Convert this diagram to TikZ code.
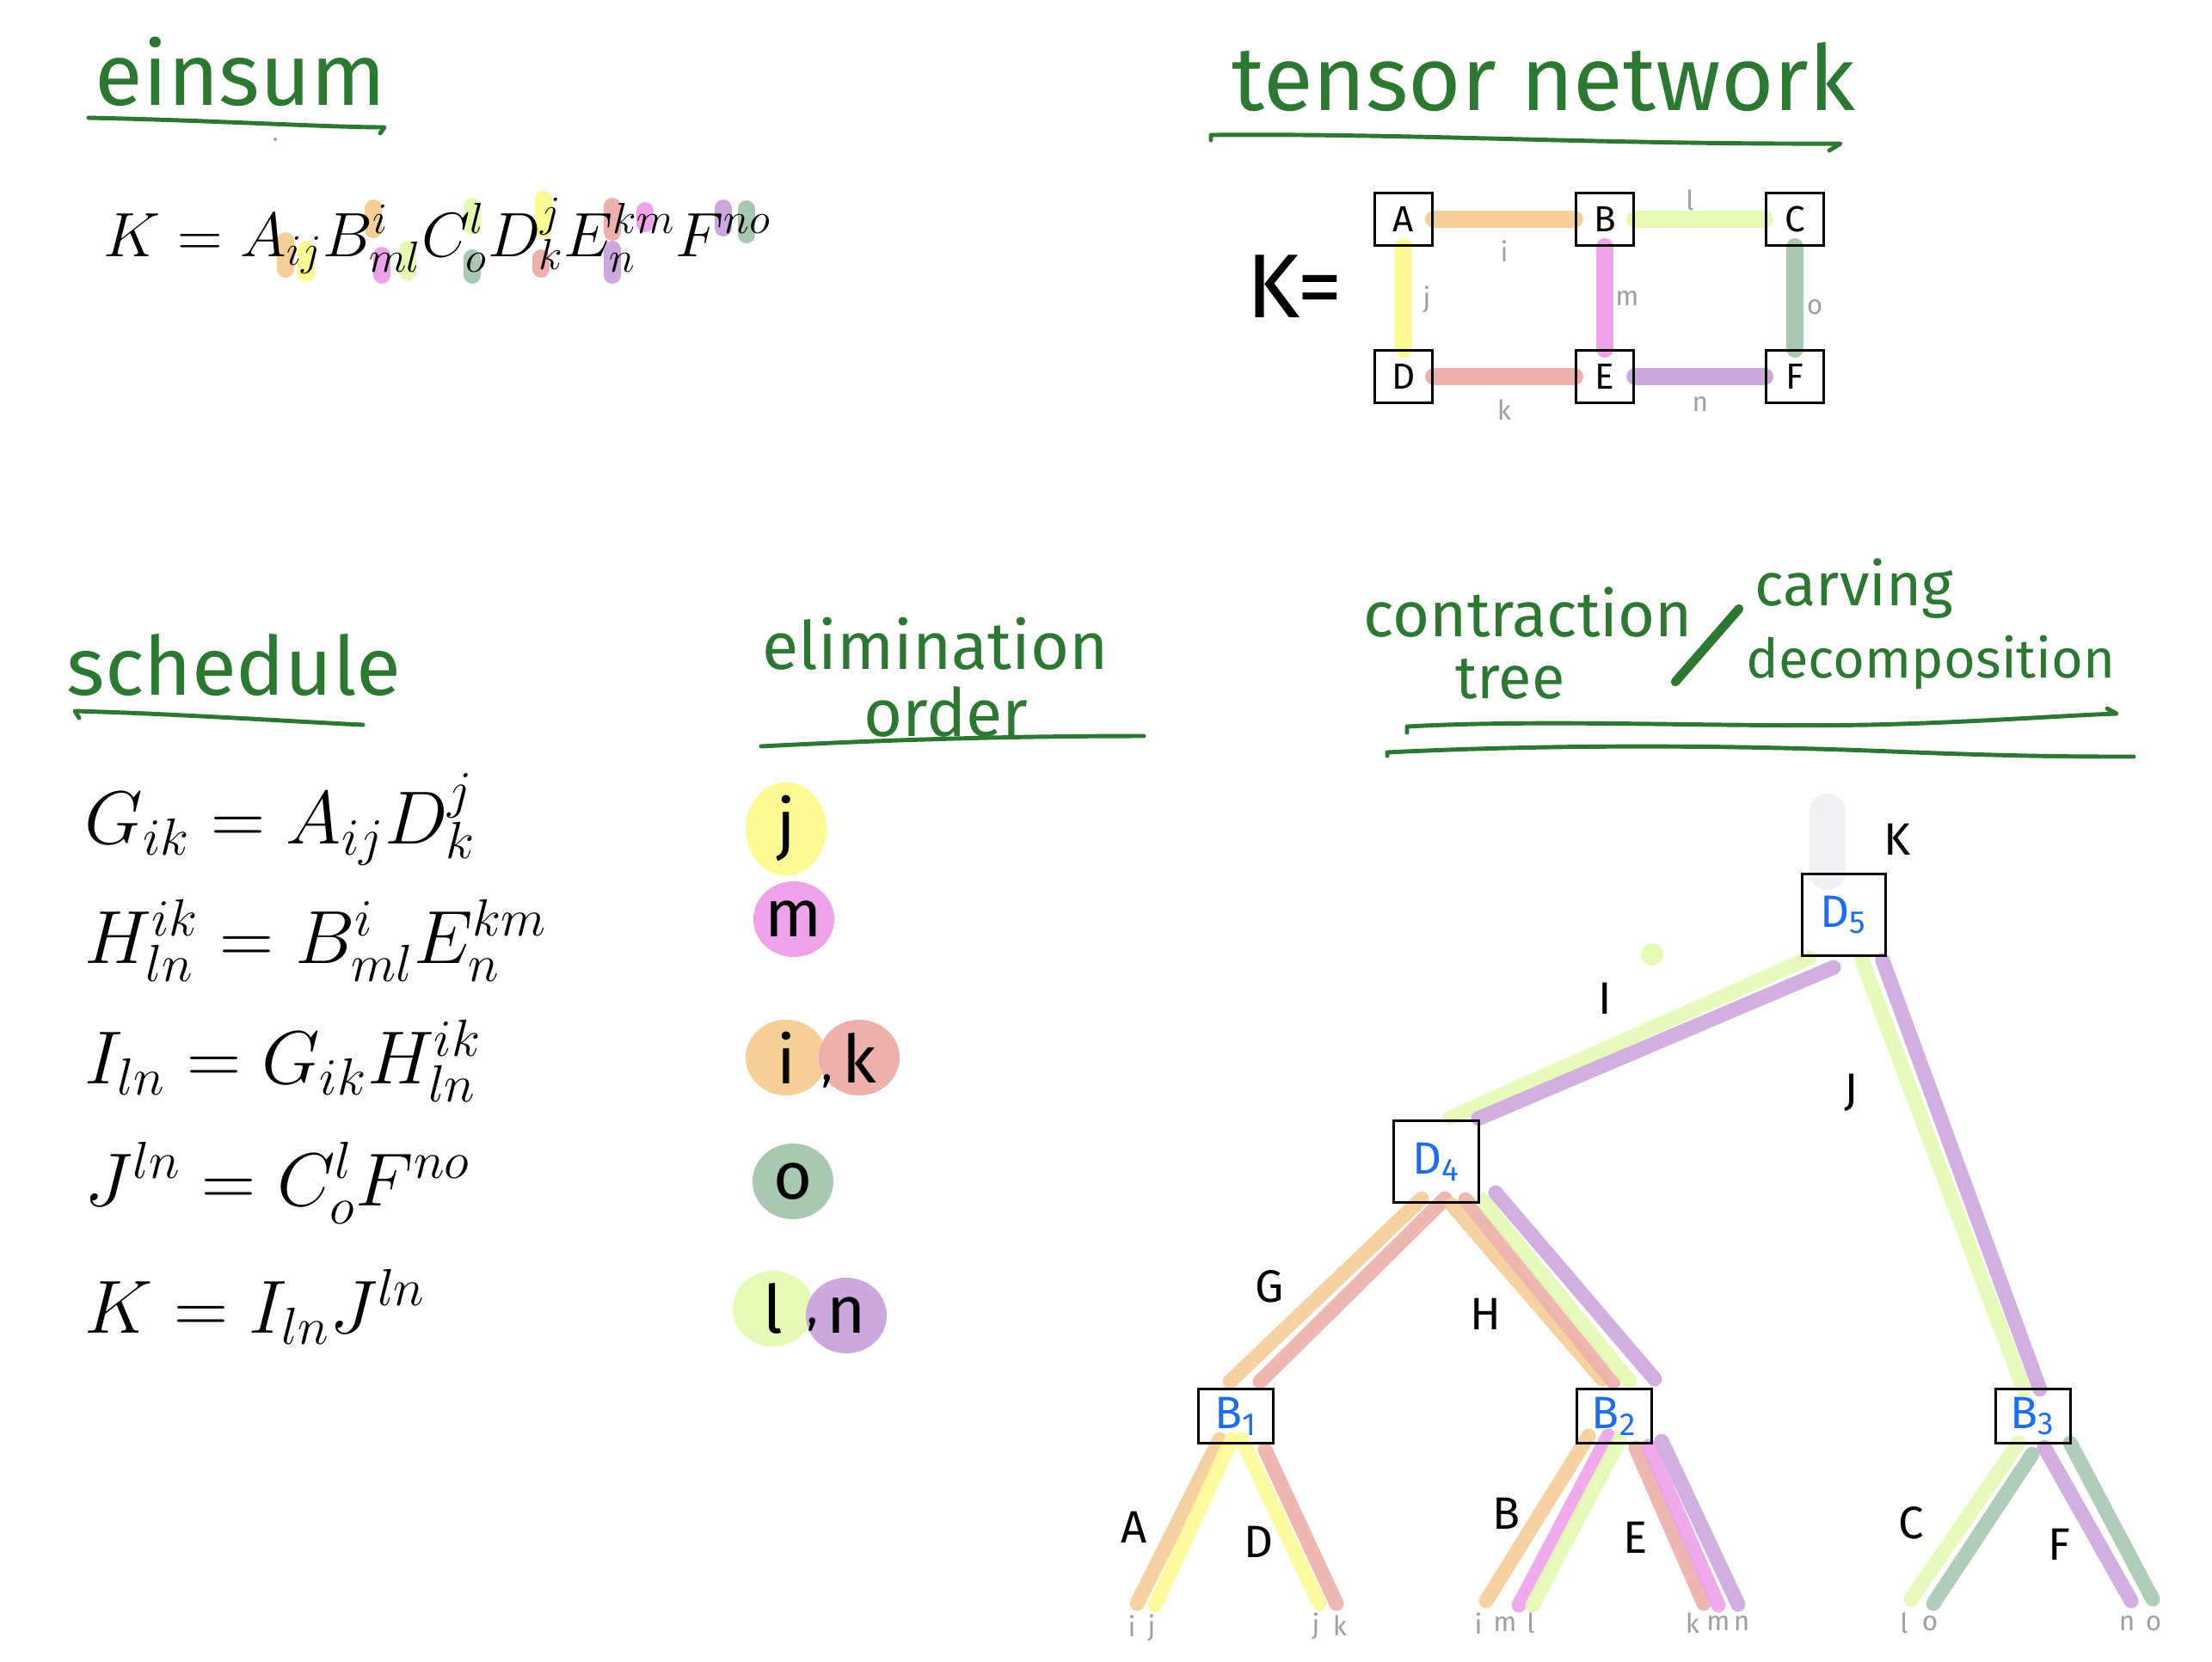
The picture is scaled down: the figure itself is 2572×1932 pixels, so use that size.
\documentclass[tikz,border=0pt]{standalone}
\usepackage{fontspec}
\usepackage{tikz}
\usetikzlibrary{positioning, backgrounds, shapes.geometric}
\newfontfamily\handfont{Fira Sans}
\definecolor{inkgreen}{RGB}{44,120,50}
\definecolor{inkblue}{RGB}{30,110,235}
\definecolor{labgray}{RGB}{160,160,160}
\definecolor{idxi}{RGB}{246,206,152}
\definecolor{idxj}{RGB}{253,250,150}
\definecolor{idxk}{RGB}{238,176,170}
\definecolor{idxl}{RGB}{229,250,180}
\definecolor{idxm}{RGB}{238,162,234}
\definecolor{idxn}{RGB}{204,168,222}
\definecolor{idxo}{RGB}{168,200,178}
\definecolor{idxK}{RGB}{242,240,245}

\begin{document}
\begin{tikzpicture}[x=0.01cm, y=-0.01cm,
    heading/.style={text=inkgreen, inner sep=0pt, font=\handfont\fontsize{#1}{#1}\selectfont},
    uline/.style={draw=inkgreen, line width=1.4pt, line cap=round, line join=round},
    tbox/.style={draw, line width=0.9pt, minimum width=0.67cm, minimum height=0.61cm, inner sep=0pt, font=\handfont\fontsize{12}{12}\selectfont},
    cbox/.style={draw, line width=0.9pt, inner sep=0pt, text=inkblue, font=\handfont\fontsize{15}{15}\selectfont},
    bond/.style={line width=0.2cm, line cap=round},
    leg/.style={line width=0.17cm, line cap=round, opacity=0.9},
    hl/.style={line width=0.2cm, line cap=round},
    ilab/.style={text=labgray, inner sep=0pt, font=\handfont\fontsize{9}{9}\selectfont},
    hlab/.style={inner sep=0pt, font=\handfont\fontsize{15}{15}\selectfont},
    elim/.style={ellipse, minimum width=0.94cm, minimum height=0.88cm, inner sep=0pt, font=\handfont\fontsize{22}{22}\selectfont},
    seq/.style={anchor=base west, inner sep=0pt, font=\fontsize{26}{26}\selectfont},
  ]
  \useasboundingbox (0,0) rectangle (2572,1932);

  % einsum
  \node[heading=29, anchor=base] (tEinsum) at (280,122) {einsum};
  \draw[uline] (103,137) .. controls (250,140) and (380,148) .. (447,148) -- (442,155);
  \fill[labgray] (320,162) circle (2);
  \node[anchor=base west, inner sep=0pt, font=\fontsize{20}{20}\selectfont] (eqK) at (120,298)
    {$K = A_{ij}B^{i}_{ml}C^{l}_{o}D^{j}_{k}E^{km}_{n}F^{no}$};

  % tensor network
  \node[heading=30, anchor=base] (tNetwork) at (1795,128) {tensor network};
  \draw[uline] (1408,163) -- (1408,157) .. controls (1650,155) and (1850,168) .. (2140,167) -- (2127,175);
  \node[inner sep=0pt, font=\handfont\fontsize{30}{30}\selectfont] (Keq) at (1505,333) {K=};
  \node[tbox] (A) at (1632,255) {A};
  \node[tbox] (B) at (1866,255) {B};
  \node[tbox] (C) at (2087,255) {C};
  \node[tbox] (D) at (1632,438) {D};
  \node[tbox] (E) at (1866,438) {E};
  \node[tbox] (F) at (2087,438) {F};
  \node[ilab] (ni) at (1749,292) {i};
  \node[ilab] (nl) at (1965,233) {l};
  \node[ilab] (nj) at (1659,348) {j};
  \node[ilab] (nm) at (1892,347) {m};
  \node[ilab] (no) at (2110,357) {o};
  \node[ilab] (nk) at (1749,477) {k};
  \node[ilab] (nn) at (1977,470) {n};

  % schedule
  \node[heading=27, anchor=base] (tSchedule) at (272,808) {schedule};
  \draw[uline] (92,835) -- (87,827) .. controls (200,830) and (320,838) .. (422,843);
  \node[seq] (s1) at (98,981) {$G_{ik} = A_{ij}D^{j}_{k}$};
  \node[seq] (s2) at (98,1120) {$H^{ik}_{ln} = B^{i}_{ml}E^{km}_{n}$};
  \node[seq] (s3) at (98,1260) {$I_{ln} = G_{ik}H^{ik}_{ln}$};
  \node[seq] (s4) at (98,1402) {$J^{ln} = C^{l}_{o}F^{no}$};
  \node[seq] (s5) at (98,1550) {$K = I_{ln}J^{ln}$};

  % elimination order
  \node[heading=22, anchor=base] (tElim) at (1088,778) {elimination};
  \node[heading=22, anchor=base] (tOrder) at (1100,856) {order};
  \draw[uline] (885,868) .. controls (1000,862) and (1150,856) .. (1330,856);
  \node[elim, fill=idxj] (oj) at (914,964) {j};
  \node[elim, fill=idxm] (om) at (923,1069) {m};
  \node[elim, fill=idxi] (oi) at (914,1230) {i};
  \node[elim, fill=idxk] (ok) at (999,1230) {k};
  \node[hlab] (cik) at (962,1258) {,};
  \node[elim, fill=idxo] (oo) at (922,1374) {o};
  \node[elim, fill=idxl] (ol) at (899,1522) {l};
  \node[elim, fill=idxn] (on) at (984,1530) {n};
  \node[hlab] (cln) at (945,1540) {,};

  % contraction tree / carving decomposition
  \node[heading=21, anchor=base] (tContr) at (1777,740) {contraction};
  \node[heading=20, anchor=base] (tTree) at (1756,812) {tree};
  \draw[uline, line width=3pt] (2022,708) -- (1948,793);
  \node[heading=20, anchor=base] (tCarv) at (2156,704) {carving};
  \node[heading=18, anchor=base] (tDecomp) at (2245,788) {decomposition};
  \draw[uline] (1636,852) -- (1636,845) .. controls (1800,836) and (2000,846) .. (2173,843)
    .. controls (2300,840) and (2400,832) .. (2461,830) -- (2450,824);
  \draw[uline] (1613,879) -- (1613,875) .. controls (1800,866) and (2000,866) .. (2200,874)
    .. controls (2350,880) and (2420,880) .. (2481,880);

  \node[cbox, minimum width=0.97cm, minimum height=0.95cm] (D5) at (2144,1064) {D\textsubscript{5}};
  \node[cbox, minimum width=0.99cm, minimum height=0.95cm] (D4) at (1670,1351) {D\textsubscript{4}};
  \node[cbox, minimum width=0.87cm, minimum height=0.63cm] (B1) at (1437,1647) {B\textsubscript{1}};
  \node[cbox, minimum width=0.87cm, minimum height=0.63cm] (B2) at (1877,1647) {B\textsubscript{2}};
  \node[cbox, minimum width=0.87cm, minimum height=0.63cm] (B3) at (2364,1647) {B\textsubscript{3}};
  \node[hlab] (lK) at (2206,976) {K};
  \node[hlab] (lI) at (1866,1161) {I};
  \node[hlab] (lJ) at (2153,1271) {J};
  \node[hlab] (lG) at (1476,1496) {G};
  \node[hlab] (lH) at (1727,1528) {H};
  \node[hlab] (lA) at (1319,1776) {A};
  \node[hlab] (lD) at (1463,1793) {D};
  \node[hlab] (lB) at (1752,1760) {B};
  \node[hlab] (lE) at (1902,1788) {E};
  \node[hlab] (lC) at (2222,1771) {C};
  \node[hlab] (lF) at (2394,1796) {F};

  \coordinate (Ai) at (1322,1865);
  \coordinate (Aj) at (1343,1867);
  \coordinate (Dj) at (1534,1865);
  \coordinate (Dk) at (1554,1865);
  \coordinate (Bi) at (1728,1862);
  \coordinate (Bm) at (1766,1867);
  \coordinate (Bl) at (1782,1867);
  \coordinate (Ek) at (1981,1865);
  \coordinate (Em) at (1998,1867);
  \coordinate (En) at (2021,1866);
  \coordinate (Cl) at (2222,1860);
  \coordinate (Co) at (2248,1865);
  \coordinate (Fn) at (2478,1862);
  \coordinate (Fo) at (2503,1860);
  \coordinate (Kout) at (2125,944);

  \node[ilab] (tAi) at (1316,1891) {i};
  \node[ilab] (tAj) at (1339,1893) {j};
  \node[ilab] (tDj) at (1530,1891) {j};
  \node[ilab] (tDk) at (1558,1891) {k};
  \node[ilab] (tBi) at (1719,1888) {i};
  \node[ilab] (tBm) at (1750,1889) {m};
  \node[ilab] (tBl) at (1780,1888) {l};
  \node[ilab] (tEk) at (1968,1888) {k};
  \node[ilab] (tEm) at (1998,1888) {m};
  \node[ilab] (tEn) at (2025,1888) {n};
  \node[ilab] (tCl) at (2214,1888) {l};
  \node[ilab] (tCo) at (2244,1888) {o};
  \node[ilab] (tFn) at (2473,1888) {n};
  \node[ilab] (tFo) at (2504,1888) {o};

  \begin{scope}[on background layer]
    \fill[white] (0,0) rectangle (2572,1932);
    % bonds of the network
    \draw[bond, idxi] (A) -- (B);
    \draw[bond, idxl] (B) -- (C);
    \draw[bond, idxj] (A) -- (D);
    \draw[bond, idxm] (B) -- (E);
    \draw[bond, idxo] (C) -- (F);
    \draw[bond, idxk] (D) -- (E);
    \draw[bond, idxn] (E) -- (F);
    % index marks in the einsum
    \draw[hl, idxi] (332,280) -- (332,313);
    \draw[hl, idxj] (356,290) -- (356,318);
    \draw[hl, idxi] (434,242) -- (434,267);
    \draw[hl, idxm] (444,297) -- (444,320);
    \draw[hl, idxl] (474,290) -- (474,317);
    \draw[hl, idxl] (549,240) -- (549,263);
    \draw[hl, idxo] (549,300) -- (549,320);
    \draw[hl, idxj] (632,232) -- (632,267);
    \draw[hl, idxk] (629,300) -- (629,313);
    \draw[hl, idxk] (712,240) -- (712,270);
    \draw[hl, idxm] (750,245) -- (750,260);
    \draw[hl, idxn] (712,290) -- (712,320);
    \draw[hl, idxn] (841,242) -- (841,265);
    \draw[hl, idxo] (868,243) -- (868,273);
    % tree
    \draw[line width=0.42cm, line cap=round, idxK] ([shift={(-19,-1)}]D5.north) -- (Kout);
    \fill[idxl] (1921,1110) circle (13);
    \draw[leg, idxl] ([shift={(-40,1)}]D5.south) -- ([shift={(16,-2)}]D4.north);
    \draw[leg, idxn] ([shift={(-12,12)}]D5.south) -- ([shift={(49,-1)}]D4.north);
    \draw[leg, idxl] ([shift={(21,4)}]D5.south) -- ([shift={(-11,2)}]B3.north);
    \draw[leg, idxn] ([shift={(45,4)}]D5.south) -- ([shift={(8,2)}]B3.north);
    \draw[leg, idxi] ([shift={(-17,-6)}]D4.south) -- ([shift={(-7,-7)}]B1.north);
    \draw[leg, idxk] ([shift={(10,-6)}]D4.south) -- ([shift={(28,-7)}]B1.north);
    \draw[leg, idxi] ([shift={(18,1)}]D4.south) -- ([shift={(-14,-10)}]B2.north);
    \draw[leg, idxk] ([shift={(34,-5)}]D4.south) -- ([shift={(-1,-7)}]B2.north);
    \draw[leg, idxl] ([shift={(53,-5)}]D4.south) -- ([shift={(18,-7)}]B2.north);
    \draw[leg, idxn] ([shift={(69,-13)}]D4.south) -- ([shift={(47,-10)}]B2.north);
    \draw[leg, idxi] ([shift={(-19,-6)}]B1.south) -- (Ai);
    \draw[leg, idxj] ([shift={(-5,-6)}]B1.south) -- (Aj);
    \draw[leg, idxj] ([shift={(7,-6)}]B1.south) -- (Dj);
    \draw[leg, idxk] ([shift={(34,6)}]B1.south) -- (Dk);
    \draw[leg, idxi] ([shift={(-30,-10)}]B2.south) -- (Bi);
    \draw[leg, idxm] ([shift={(-7,-10)}]B2.south) -- (Bm);
    \draw[leg, idxl] ([shift={(7,-7)}]B2.south) -- (Bl);
    \draw[leg, idxk] ([shift={(25,4)}]B2.south) -- (Ek);
    \draw[leg, idxm] ([shift={(40,2)}]B2.south) -- (Em);
    \draw[leg, idxn] ([shift={(55,-4)}]B2.south) -- (En);
    \draw[leg, idxl] ([shift={(-17,-2)}]B3.south) -- (Cl);
    \draw[leg, idxo] ([shift={(-1,11)}]B3.south) -- (Co);
    \draw[leg, idxn] ([shift={(13,3)}]B3.south) -- (Fn);
    \draw[leg, idxo] ([shift={(43,-2)}]B3.south) -- (Fo);
  \end{scope}
\end{tikzpicture}
\end{document}
